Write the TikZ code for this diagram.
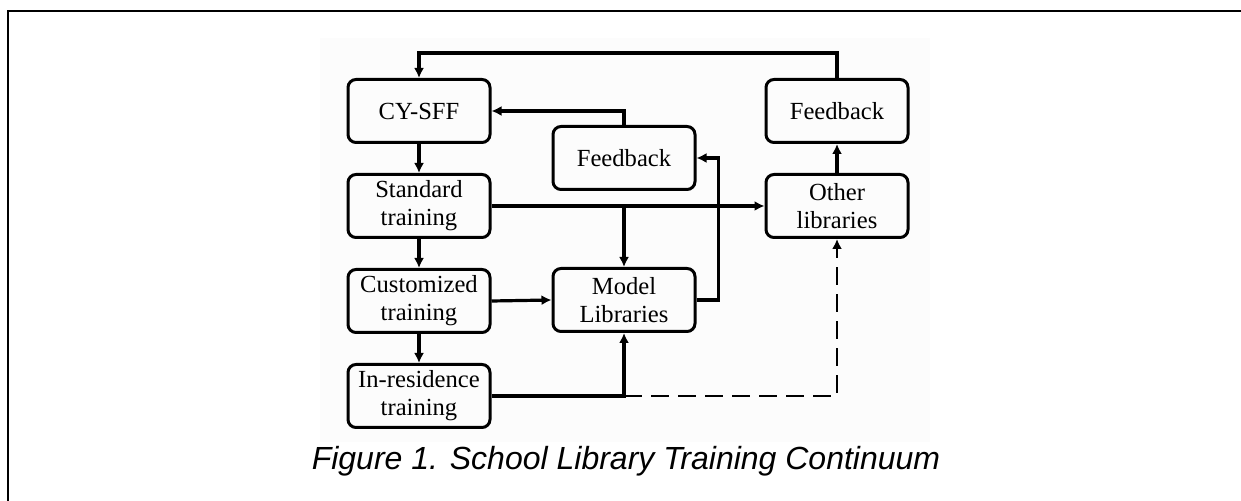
\documentclass[tikz,border=0pt]{standalone}
\usepackage{fontspec}
\setmainfont{Liberation Serif}
\newfontfamily\capfont{Liberation Sans}
\usetikzlibrary{arrows.meta,positioning}
\tikzset{
  block/.style   = {draw, rectangle, rounded corners=4pt, line width=1.5pt, align=center,
                    minimum width=71pt, minimum height=31.5pt, inner sep=2pt, font=\fontsize{12.3}{14}\selectfont},
  link/.style    = {->, line width=1.6pt},
  dashlink/.style = {->, line width=1.1pt, dash pattern=on 9pt off 4.5pt},
  caption/.style = {font=\capfont\itshape\fontsize{16}{19}\selectfont, anchor=base}
}
\begin{document}
\begin{tikzpicture}[x=0.5pt,y=-0.5pt,>={Latex[length=5pt,width=5pt]},node distance=47.5pt]
    \useasboundingbox (0,0) rectangle (1241,501);
    % page frame and the light background of the figure
    \draw[line width=1pt] (7.7,501) -- (7.7,11.3) -- (1241,11.3);
    \fill[black!1] (320,38) rectangle (930,442);

    % left column
    \node[block] (cy) at (419,111) {CY-SFF};
    \node[block, below of = cy] (std) {Standard\\training};
    \node[block, below of = std] (cust) {Customized\\training};
    \node[block, below of = cust] (inres) {In-residence\\training};

    % middle column
    \node[block] (fbmid) at (624,158) {Feedback};
    \node[block] (model) at (624,300) {Model\\Libraries};

    % right column
    \node[block] (fbr) at (837,111) {Feedback};
    \node[block, below of = fbr] (oth) {Other\\libraries};

    \node[caption] (cap) at (626,470) {Figure 1. School Library Training Continuum};

    \foreach \from/\to in {cy/std,std/cust,cust/inres,oth/fbr}
      \draw[link] (\from) -- (\to);

    \draw[link] (fbr.north) -- ++(0,12.5pt) -| (cy.north);
    \draw[link] (fbmid.north) |- (cy.east);
    \draw[link] (std.east) -- (oth.west);
    \draw[link] (std.east -| model.north) -- (model.north);
    \draw[link] (cust.east) -- (model.west);
    \draw[link] (model.east) -- ++(11pt,0) |- (fbmid.east);
    \draw[link] (inres.east) -| (model.south);
    \draw[dashlink] (inres.east -| model.south) -| (oth.south);
\end{tikzpicture}
\end{document}
